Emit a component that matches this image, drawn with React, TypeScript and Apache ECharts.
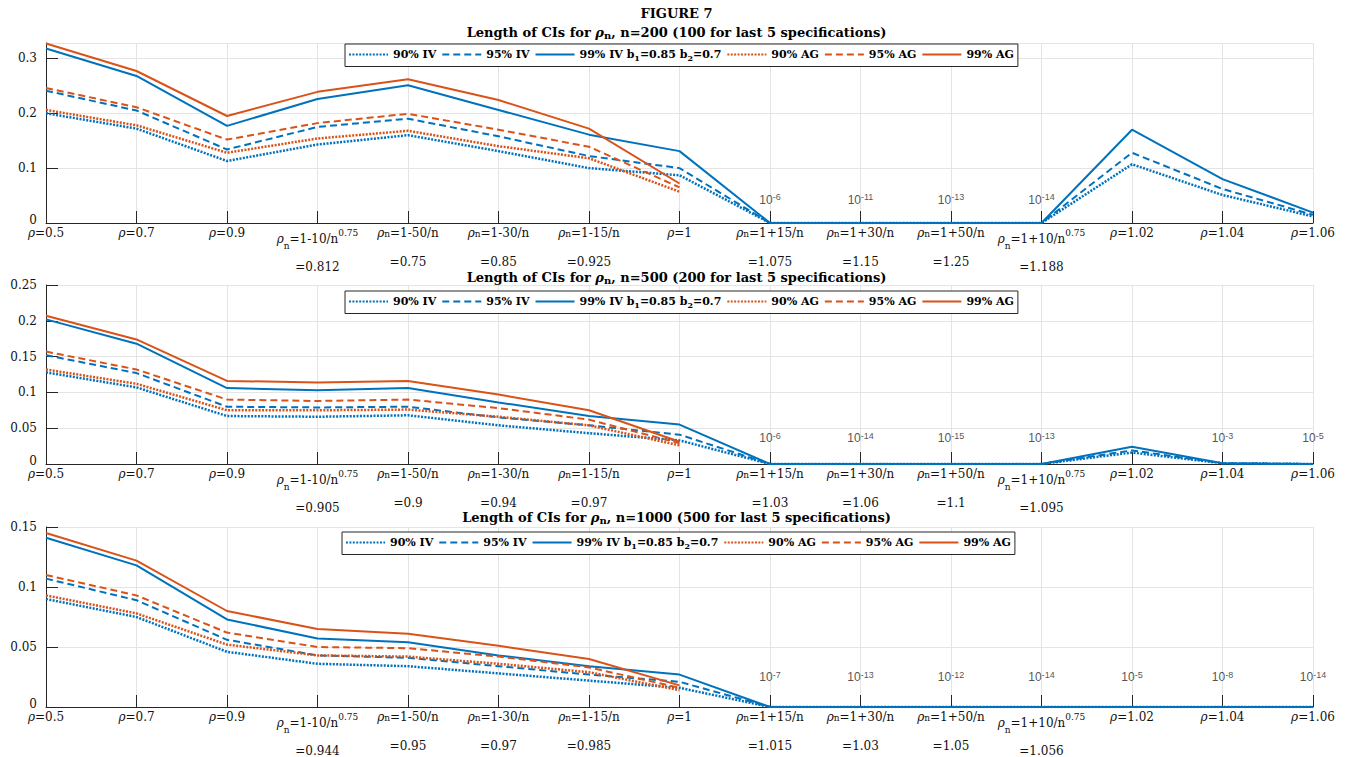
import { useEffect, useRef } from 'react';
import * as echarts from 'echarts';

// ---------- data ----------
const catsN200 = [
  'ρ=0.5', 'ρ=0.7', 'ρ=0.9', 'ρ_n=1-10/n^{0.75}\n=0.812', 'ρ_n=1-50/n\n=0.75', 'ρ_n=1-30/n\n=0.85',
  'ρ_n=1-15/n\n=0.925', 'ρ=1', 'ρ_n=1+15/n\n=1.075', 'ρ_n=1+30/n\n=1.15', 'ρ_n=1+50/n\n=1.25',
  'ρ_n=1+10/n^{0.75}\n=1.188', 'ρ=1.02', 'ρ=1.04', 'ρ=1.06',
];
const catsN500 = [
  'ρ=0.5', 'ρ=0.7', 'ρ=0.9', 'ρ_n=1-10/n^{0.75}\n=0.905', 'ρ_n=1-50/n\n=0.9', 'ρ_n=1-30/n\n=0.94',
  'ρ_n=1-15/n\n=0.97', 'ρ=1', 'ρ_n=1+15/n\n=1.03', 'ρ_n=1+30/n\n=1.06', 'ρ_n=1+50/n\n=1.1',
  'ρ_n=1+10/n^{0.75}\n=1.095', 'ρ=1.02', 'ρ=1.04', 'ρ=1.06',
];
const catsN1000 = [
  'ρ=0.5', 'ρ=0.7', 'ρ=0.9', 'ρ_n=1-10/n^{0.75}\n=0.944', 'ρ_n=1-50/n\n=0.95', 'ρ_n=1-30/n\n=0.97',
  'ρ_n=1-15/n\n=0.985', 'ρ=1', 'ρ_n=1+15/n\n=1.015', 'ρ_n=1+30/n\n=1.03', 'ρ_n=1+50/n\n=1.05',
  'ρ_n=1+10/n^{0.75}\n=1.056', 'ρ=1.02', 'ρ=1.04', 'ρ=1.06',
];

// n = 200
const iv90N200 = [0.200, 0.172, 0.113, 0.143, 0.160, 0.131, 0.100, 0.087, 1e-6, 1e-11, 1e-13, 1e-14, 0.107, 0.051, 0.012];
const iv95N200 = [0.241, 0.205, 0.134, 0.175, 0.190, 0.158, 0.122, 0.100, 1e-6, 1e-11, 1e-13, 1e-14, 0.128, 0.062, 0.015];
const iv99N200 = [0.318, 0.268, 0.177, 0.226, 0.251, 0.206, 0.161, 0.131, 1e-6, 1e-11, 1e-13, 1e-14, 0.170, 0.080, 0.019];
const ag90N200 = [0.206, 0.178, 0.128, 0.154, 0.168, 0.140, 0.118, 0.057];
const ag95N200 = [0.246, 0.211, 0.152, 0.182, 0.199, 0.170, 0.139, 0.065];
const ag99N200 = [0.327, 0.277, 0.195, 0.239, 0.262, 0.224, 0.172, 0.072];

// n = 500
const iv90N500 = [0.128, 0.107, 0.067, 0.066, 0.068, 0.054, 0.043, 0.033, 1e-6, 1e-14, 1e-15, 1e-13, 0.016, 1e-3, 1e-5];
const iv95N500 = [0.152, 0.127, 0.080, 0.079, 0.080, 0.065, 0.054, 0.041, 1e-6, 1e-14, 1e-15, 1e-13, 0.019, 1e-3, 1e-5];
const iv99N500 = [0.202, 0.168, 0.106, 0.103, 0.106, 0.086, 0.067, 0.055, 1e-6, 1e-14, 1e-15, 1e-13, 0.024, 1e-3, 1e-5];
const ag90N500 = [0.132, 0.112, 0.075, 0.075, 0.076, 0.066, 0.054, 0.026];
const ag95N500 = [0.157, 0.132, 0.090, 0.088, 0.090, 0.078, 0.062, 0.029];
const ag99N500 = [0.207, 0.174, 0.116, 0.114, 0.116, 0.097, 0.075, 0.031];

// n = 1000
const iv90N1000 = [0.090, 0.075, 0.046, 0.036, 0.034, 0.028, 0.022, 0.016, 1e-7, 1e-13, 1e-12, 1e-14, 1e-5, 1e-8, 1e-14];
const iv95N1000 = [0.107, 0.089, 0.056, 0.043, 0.041, 0.034, 0.027, 0.021, 1e-7, 1e-13, 1e-12, 1e-14, 1e-5, 1e-8, 1e-14];
const iv99N1000 = [0.141, 0.118, 0.073, 0.057, 0.054, 0.043, 0.034, 0.027, 1e-7, 1e-13, 1e-12, 1e-14, 1e-5, 1e-8, 1e-14];
const ag90N1000 = [0.093, 0.078, 0.052, 0.043, 0.042, 0.036, 0.029, 0.014];
const ag95N1000 = [0.110, 0.093, 0.062, 0.050, 0.049, 0.042, 0.033, 0.016];
const ag99N1000 = [0.145, 0.122, 0.080, 0.065, 0.061, 0.051, 0.040, 0.018];

const seriesNames = ['90% IV', '95% IV', '99% IV b_1=0.85 b_2=0.7', '90% AG', '95% AG', '99% AG'];
const panelTitles = [
  'Length of CIs for ρ_n, n=200 (100 for last 5 specifications)',
  'Length of CIs for ρ_n, n=500 (200 for last 5 specifications)',
  'Length of CIs for ρ_n, n=1000 (500 for last 5 specifications)',
];

// ---------- styling / layout ----------
const BLUE = '#0072BD';
const ORANGE = '#D95319';
const SERIF = 'DejaVu Serif';
const SANS = 'Liberation Sans';
const INK = '#262626';
const TEXT = '#111';
const GRIDC = '#e4e4e4';

const PLOT_LEFT = 46;
const PLOT_WIDTH = 1267;
const panelTop = [43, 285, 527];
const panelHeight = [180, 179, 180];
const yMax = [0.328, 0.25, 0.15];
const yStep = [0.1, 0.05, 0.05];
const legendTop = [44, 291, 532];
const legendLeft = [345, 345, 342];
const titleTop = [24, 269, 509];
const noteLevel = [0.042, 0.036, 0.025];

const lineKinds = [
  { color: BLUE, type: [2, 1.4], width: 2.5 },
  { color: BLUE, type: [7, 4], width: 2 },
  { color: BLUE, type: 'solid', width: 2 },
  { color: ORANGE, type: [2, 1.4], width: 2.5 },
  { color: ORANGE, type: [7, 4], width: 2 },
  { color: ORANGE, type: 'solid', width: 2 },
];

// tick label markup: ρ italic, _n subscript, ^{..} superscript, second line centred
function tickLabel(s: string): string {
  const [first, second] = s.split('\n');
  const hasSup = first.includes('^');
  const parts: string[] = [];
  const re = /(ρ)|(_n)|\^\{([^}]*)\}|([^ρ_^]+)/g;
  let m: RegExpExecArray | null;
  while ((m = re.exec(first))) {
    if (m[1]) parts.push(hasSup ? '{i3|ρ}' : '{i|ρ}');
    else if (m[2]) parts.push(hasSup ? '{sb2|n}' : '{sb|n}');
    else if (m[3] !== undefined) parts.push(`{sp|${m[3]}}`);
    else if (m[4]) parts.push(hasSup ? `{a3|${m[4]}}` : `{a|${m[4]}}`);
  }
  let out = parts.join('');
  if (second) out += '\n' + (hasSup ? `{c|${second}}` : `{b|${second}}`);
  return out;
}

const base = { fontFamily: SERIF, color: TEXT, align: 'center' };
const tickRich = {
  a: { ...base, fontSize: 12, lineHeight: 10, verticalAlign: 'middle' },
  i: { ...base, fontSize: 12, lineHeight: 10, verticalAlign: 'middle', fontStyle: 'italic' },
  sb: { ...base, fontSize: 9, lineHeight: 1, verticalAlign: 'bottom' },
  b: { ...base, fontSize: 12, lineHeight: 47, verticalAlign: 'middle' },
  a3: { ...base, fontSize: 12, lineHeight: 22, verticalAlign: 'middle' },
  i3: { ...base, fontSize: 12, lineHeight: 22, verticalAlign: 'middle', fontStyle: 'italic' },
  sp: { ...base, fontSize: 9, lineHeight: 7, verticalAlign: 'top' },
  sb2: { ...base, fontSize: 9, lineHeight: 5, verticalAlign: 'bottom' },
  c: { ...base, fontSize: 12, lineHeight: 34, verticalAlign: 'middle' },
};

// y tick labels; the zero label sits a little higher so it clears the first category label
const yRich = {
  y: { fontFamily: SERIF, fontSize: 12, lineHeight: 12, color: TEXT },
  z: { fontFamily: SERIF, fontSize: 12, lineHeight: 12, color: TEXT, padding: [0, 0, 7, 0] },
};

function legendLabel(name: string): string {
  return name
    .split(/(_\d)/)
    .filter((p) => p.length)
    .map((p) => (p.startsWith('_') ? `{s|${p.slice(1)}}` : `{t|${p}}`))
    .join('');
}

function titleLabel(s: string): string {
  const [pre, post] = s.split('ρ_n');
  return `{t|${pre}}{ti|ρ}{ts|n}{t|${post}}`;
}

function buildOption() {
  const panels = [
    { cats: catsN200, data: [iv90N200, iv95N200, iv99N200, ag90N200, ag95N200, ag99N200] },
    { cats: catsN500, data: [iv90N500, iv95N500, iv99N500, ag90N500, ag95N500, ag99N500] },
    { cats: catsN1000, data: [iv90N1000, iv95N1000, iv99N1000, ag90N1000, ag95N1000, ag99N1000] },
  ];

  const grid: any[] = [];
  const xAxis: any[] = [];
  const yAxis: any[] = [];
  const series: any[] = [];
  const legend: any[] = [];
  const title: any[] = [
    {
      text: 'FIGURE 7',
      left: 'center',
      top: 5,
      padding: 0,
      textStyle: { fontFamily: SERIF, fontWeight: 'bold', fontSize: 13, lineHeight: 16, color: '#000' },
    },
  ];

  const titleRich = {
    t: { fontFamily: SERIF, fontWeight: 'bold', fontSize: 13, lineHeight: 16, color: '#000', verticalAlign: 'middle' },
    ti: { fontFamily: SERIF, fontWeight: 'bold', fontStyle: 'italic', fontSize: 13, lineHeight: 16, color: '#000', verticalAlign: 'middle' },
    ts: { fontFamily: SERIF, fontWeight: 'bold', fontSize: 10, lineHeight: 6, color: '#000', verticalAlign: 'bottom' },
  };

  panels.forEach((p, k) => {
    grid.push({
      left: PLOT_LEFT,
      top: panelTop[k],
      width: PLOT_WIDTH,
      height: panelHeight[k],
      containLabel: false,
      outerBoundsMode: 'none',
    });
    xAxis.push({
      type: 'category',
      gridIndex: k,
      data: p.cats,
      boundaryGap: false,
      axisLine: { show: true, lineStyle: { color: INK, width: 1 } },
      axisTick: { show: true, inside: true, length: 12, interval: 0, lineStyle: { color: INK, width: 1 } },
      axisLabel: {
        interval: 0,
        margin: 5,
        hideOverlap: false,
        formatter: (v: string) => tickLabel(v),
        rich: tickRich,
      },
      splitLine: { show: true, interval: 0, lineStyle: { color: GRIDC, width: 1 } },
    });
    yAxis.push({
      type: 'value',
      gridIndex: k,
      min: 0,
      max: yMax[k],
      interval: yStep[k],
      axisLine: { show: true, lineStyle: { color: INK, width: 1 } },
      axisTick: { show: true, inside: true, length: 12, lineStyle: { color: INK, width: 1 } },
      axisLabel: {
        margin: 9,
        showMaxLabel: k !== 0,
        formatter: (v: number) => (v === 0 ? '{z|0}' : `{y|${+v.toFixed(3)}}`),
        rich: yRich,
      },
      splitLine: { show: true, lineStyle: { color: GRIDC, width: 1 } },
    });

    p.data.forEach((vals, s) => {
      const kind = lineKinds[s];
      series.push({
        type: 'line',
        name: seriesNames[s],
        xAxisIndex: k,
        yAxisIndex: k,
        data: vals,
        symbol: 'none',
        silent: true,
        lineStyle: { color: kind.color, width: kind.width, type: kind.type, cap: 'butt' },
        itemStyle: { color: kind.color },
        z: 2,
      });
    });

    // order-of-magnitude notes where the 99% IV length collapses to ~0
    const notes = p.data[2]
      .map((v, i) => (v < 0.01 ? [p.cats[i], noteLevel[k], Math.round(Math.log10(v))] : null))
      .filter((d) => d !== null);
    series.push({
      type: 'scatter',
      name: 'order' + k,
      xAxisIndex: k,
      yAxisIndex: k,
      data: notes,
      symbolSize: 1,
      silent: true,
      itemStyle: { color: 'rgba(0,0,0,0)' },
      label: {
        show: true,
        position: 'inside',
        color: INK,
        fontFamily: SANS,
        fontSize: 12,
        textBorderWidth: 0,
        formatter: (prm: any) => `{n|10}{e|${prm.value[2]}}`,
        rich: {
          n: { fontFamily: SANS, fontSize: 12, lineHeight: 14, color: INK, verticalAlign: 'middle', textBorderWidth: 0 },
          e: { fontFamily: SANS, fontSize: 9, lineHeight: 4, color: INK, verticalAlign: 'top', textBorderWidth: 0 },
        },
      },
      z: 3,
    });

    legend.push({
      show: true,
      left: legendLeft[k],
      top: legendTop[k],
      orient: 'horizontal',
      itemWidth: 39,
      itemHeight: 12,
      itemGap: 5,
      padding: [5, 4, 5, 3],
      borderColor: INK,
      borderWidth: 1,
      borderRadius: 0,
      backgroundColor: '#fff',
      selectedMode: false,
      data: seriesNames,
      itemStyle: { opacity: 0, color: 'rgba(0,0,0,0)', borderWidth: 0 },
      formatter: (n: string) => legendLabel(n),
      textStyle: {
        rich: {
          t: { fontFamily: SERIF, fontWeight: 'bold', fontSize: 11, lineHeight: 14, color: '#000', verticalAlign: 'middle' },
          s: { fontFamily: SERIF, fontWeight: 'bold', fontSize: 8, lineHeight: 6, color: '#000', verticalAlign: 'bottom' },
        },
      },
    });

    title.push({
      text: titleLabel(panelTitles[k]),
      left: 'center',
      top: titleTop[k],
      padding: 0,
      textStyle: { rich: titleRich },
    });
  });

  return { animation: false, backgroundColor: '#fff', title, grid, xAxis, yAxis, legend, series };
}

export default function App() {
  const ref = useRef<HTMLDivElement>(null);
  useEffect(() => {
    const chart = echarts.init(ref.current!, undefined, { renderer: 'svg' });
    chart.setOption(buildOption() as any);
    return () => chart.dispose();
  }, []);
  return (
    <div
      ref={ref}
      style={{ position: 'fixed', left: 0, top: 0, width: 1353, height: 757, background: '#fff' }}
    />
  );
}
